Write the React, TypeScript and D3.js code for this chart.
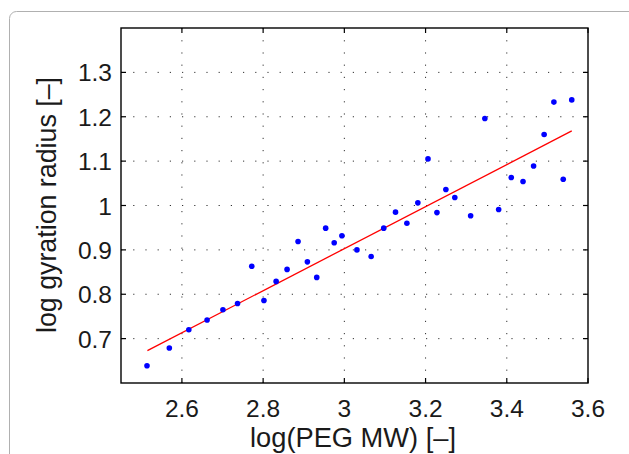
import React, {useEffect, useRef} from 'react';
import * as d3 from 'd3';

// measured points, log(PEG MW) vs log gyration radius
const pegMw = [2.514, 2.569, 2.617, 2.662, 2.701, 2.737, 2.772, 2.802, 2.832, 2.859,
    2.886, 2.909, 2.932, 2.954, 2.975, 2.994, 3.031, 3.066, 3.097, 3.126,
    3.154, 3.181, 3.206, 3.228, 3.250, 3.272, 3.311, 3.346, 3.380, 3.411,
    3.440, 3.466, 3.492, 3.516, 3.539, 3.560];
const gyration = [0.639, 0.679, 0.720, 0.742, 0.765, 0.779, 0.863, 0.786, 0.829, 0.856,
    0.919, 0.873, 0.838, 0.949, 0.916, 0.932, 0.900, 0.885, 0.949, 0.985,
    0.960, 1.006, 1.105, 0.984, 1.036, 1.018, 0.977, 1.196, 0.991, 1.063,
    1.054, 1.089, 1.160, 1.233, 1.059, 1.238];

// fitted line end points
const fitX = [2.515, 3.560];
const fitY = [0.673, 1.168];

const xTicks = [2.6, 2.8, 3.0, 3.2, 3.4, 3.6];
const yTicks = [0.7, 0.8, 0.9, 1.0, 1.1, 1.2, 1.3];

function App() {
    const ref = useRef<SVGSVGElement | null>(null);

    const width = 629;
    const height = 454;
    const margin = {top: 28, right: 41, bottom: 71, left: 121};

    useEffect(() => {
        drawChart();
    }, []);

    function drawChart() {
        const svg = d3.select(ref.current);
        svg.selectAll('*').remove();

        const font = '"Liberation Sans", Arial, Helvetica, sans-serif';

        // outer rounded frame
        svg.append('rect')
            .attr('x', 9.5)
            .attr('y', 11.5)
            .attr('width', 640)
            .attr('height', 460)
            .attr('rx', 7)
            .attr('fill', 'none')
            .attr('stroke', '#b0b0b0')
            .attr('stroke-width', 1);

        const x = d3.scaleLinear()
            .domain([2.45, 3.6])
            .range([margin.left, width - margin.right]);
        const y = d3.scaleLinear()
            .domain([0.6, 1.4])
            .range([height - margin.bottom, margin.top]);

        const [x0, x1] = x.range();
        const [y0, y1] = y.range();

        // dotted grid
        const grid = svg.append('g')
            .attr('stroke', '#333')
            .attr('stroke-width', 1)
            .attr('stroke-dasharray', '1.2 11');
        grid.selectAll('.gx')
            .data(xTicks.filter(t => t < 3.6))
            .enter()
            .append('line')
            .attr('x1', d => x(d))
            .attr('x2', d => x(d))
            .attr('y1', y0)
            .attr('y2', y1);
        grid.selectAll('.gy')
            .data(yTicks)
            .enter()
            .append('line')
            .attr('x1', x0)
            .attr('x2', x1)
            .attr('y1', d => y(d))
            .attr('y2', d => y(d));

        // inward ticks on all four sides
        const ticks = svg.append('g')
            .attr('stroke', '#000')
            .attr('stroke-width', 1.2);
        xTicks.forEach(t => {
            ticks.append('line').attr('x1', x(t)).attr('x2', x(t)).attr('y1', y0).attr('y2', y0 - 5);
            ticks.append('line').attr('x1', x(t)).attr('x2', x(t)).attr('y1', y1).attr('y2', y1 + 5);
        });
        yTicks.forEach(t => {
            ticks.append('line').attr('x1', x0).attr('x2', x0 + 5).attr('y1', y(t)).attr('y2', y(t));
            ticks.append('line').attr('x1', x1).attr('x2', x1 - 5).attr('y1', y(t)).attr('y2', y(t));
        });

        // axes box
        svg.append('rect')
            .attr('x', x0)
            .attr('y', y1)
            .attr('width', x1 - x0)
            .attr('height', y0 - y1)
            .attr('fill', 'none')
            .attr('stroke', '#000')
            .attr('stroke-width', 1.4);

        // tick labels
        svg.append('g')
            .selectAll('text')
            .data(xTicks)
            .enter()
            .append('text')
            .attr('x', d => x(d))
            .attr('y', 417)
            .attr('text-anchor', 'middle')
            .attr('font-family', font)
            .attr('font-size', 24.5)
            .attr('fill', '#1a1a1a')
            .text(d => d3.format('')(d));

        svg.append('g')
            .selectAll('text')
            .data(yTicks)
            .enter()
            .append('text')
            .attr('x', 112)
            .attr('y', d => y(d) + 9)
            .attr('text-anchor', 'end')
            .attr('font-family', font)
            .attr('font-size', 24.5)
            .attr('fill', '#1a1a1a')
            .text(d => d3.format('')(d));

        // axis titles
        svg.append('text')
            .attr('x', 353)
            .attr('y', 447)
            .attr('text-anchor', 'middle')
            .attr('font-family', font)
            .attr('font-size', 27)
            .attr('textLength', 206)
            .attr('lengthAdjust', 'spacingAndGlyphs')
            .attr('fill', '#1a1a1a')
            .text('log(PEG MW) [\u2013]');

        svg.append('text')
            .attr('transform', `translate(56, 205) rotate(-90)`)
            .attr('text-anchor', 'middle')
            .attr('font-family', font)
            .attr('font-size', 27)
            .attr('textLength', 256)
            .attr('lengthAdjust', 'spacingAndGlyphs')
            .attr('fill', '#1a1a1a')
            .text('log gyration radius [\u2013]');

        // fit line
        const line = d3.line<number>()
            .x(d => x(d))
            .y((_, i) => y(fitY[i]));
        svg.append('path')
            .attr('d', line(fitX))
            .attr('fill', 'none')
            .attr('stroke', '#ff0000')
            .attr('stroke-width', 1.3);

        // points
        svg.append('g')
            .selectAll('circle')
            .data(pegMw)
            .enter()
            .append('circle')
            .attr('cx', d => x(d))
            .attr('cy', (_, i) => y(gyration[i]))
            .attr('r', 2.8)
            .attr('fill', '#0000ff');
    }

    return <svg ref={ref} width={width} height={height}
                style={{position: 'absolute', left: 0, top: 0, background: '#fff'}}/>;
}

export default App;
